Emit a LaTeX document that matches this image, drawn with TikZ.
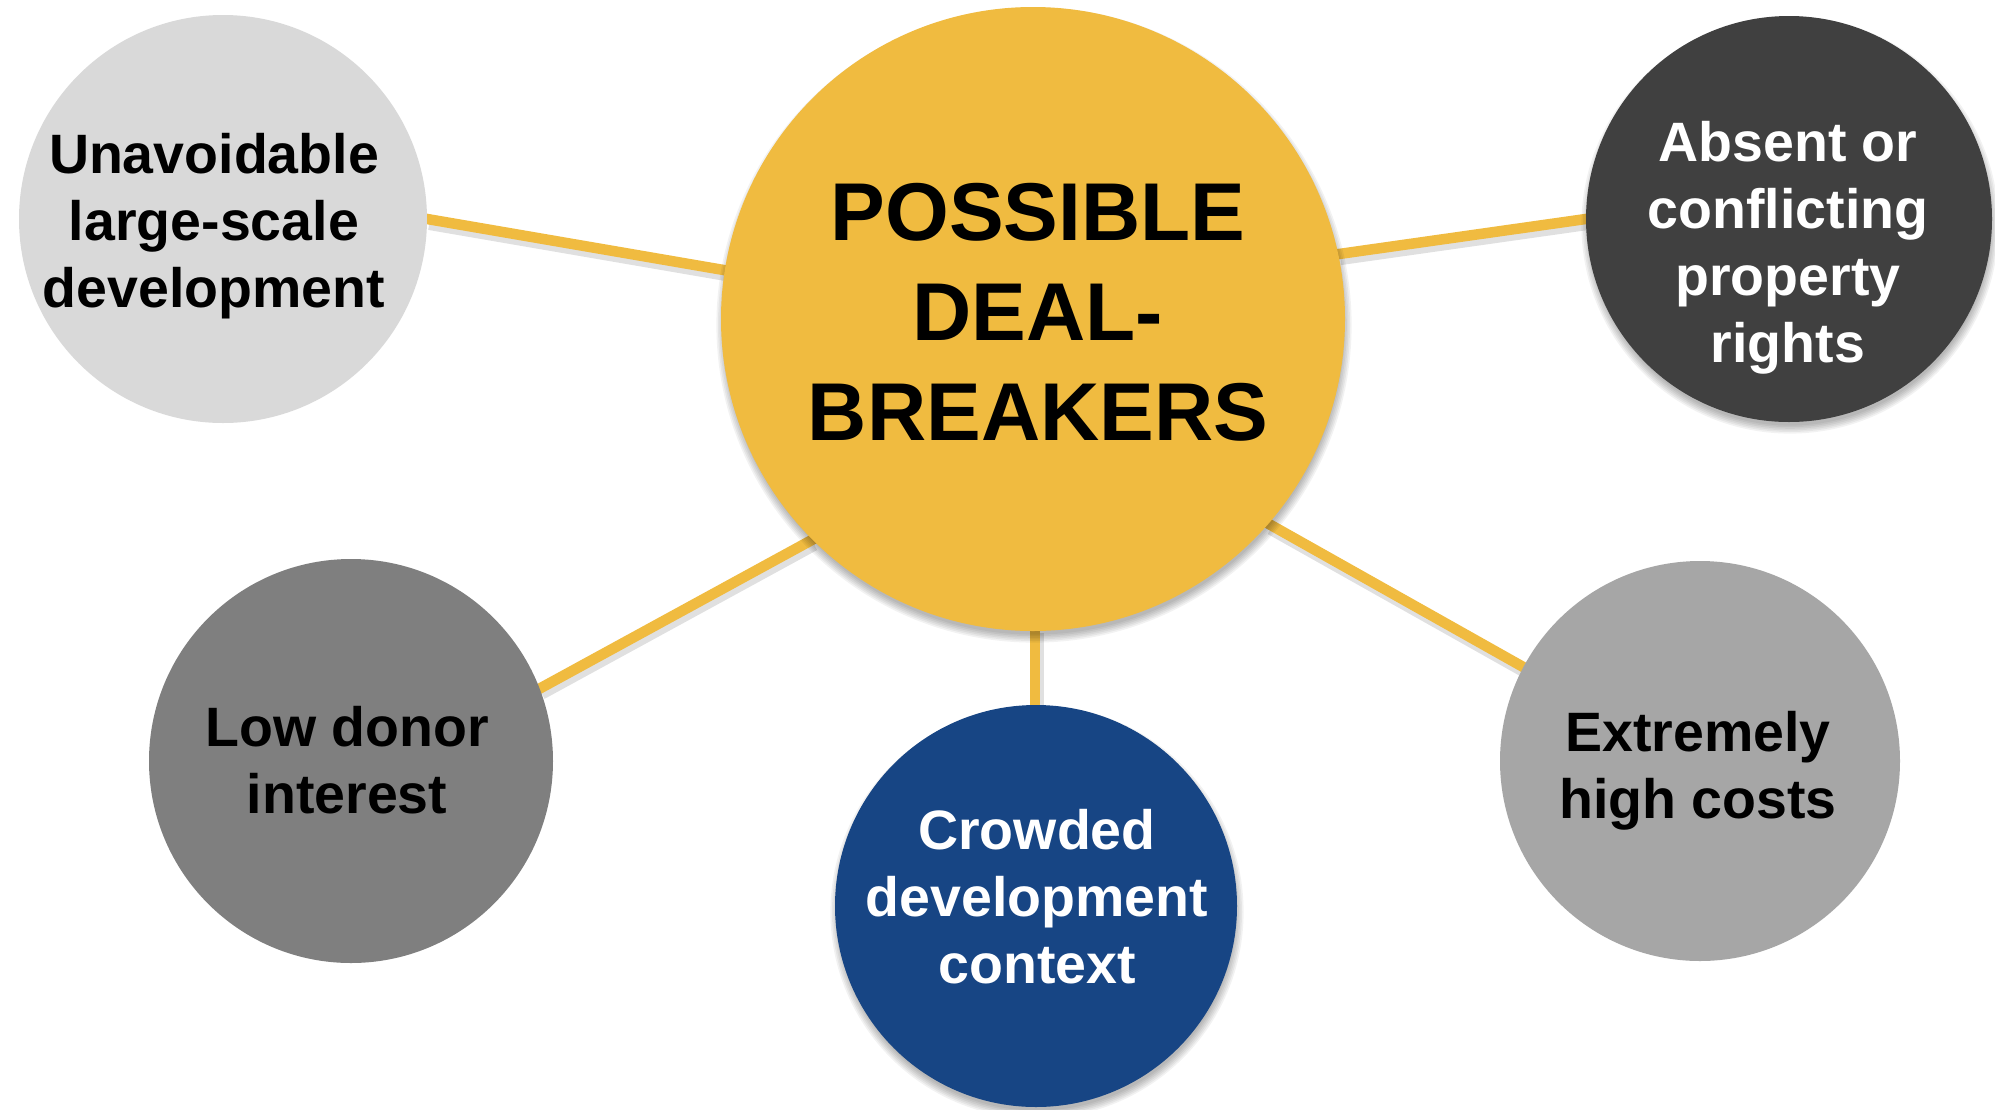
\documentclass[tikz,border=0pt]{standalone}
\usepackage{fontspec}
\setmainfont{Liberation Sans}
\usetikzlibrary{calc,backgrounds}
\pgfdeclarelayer{bottom}
\pgfsetlayers{bottom,background,main}
\definecolor{dbyellow}{HTML}{F0BB40}
\definecolor{dblight}{HTML}{D9D9D9}
\definecolor{dbdark}{HTML}{404040}
\definecolor{dbmid}{HTML}{7F7F7F}
\definecolor{dbblue}{HTML}{174584}
\definecolor{dbsilver}{HTML}{A6A6A6}
\newcommand\dbshadow[3]{%
  \foreach \k in {1,...,6}{%
    \fill[black, opacity=0.05] ($(#1)+(1,6)$) circle ({#2-4+\k*1.6});}}
\begin{document}
\begin{tikzpicture}[x=1pt,y=-1pt,
  bubble/.style={circle, inner sep=0pt, minimum size=#1},
  link/.style={draw=dbyellow, line width=10.5pt, shorten <=-4pt, shorten >=-4pt},
  linkshadow/.style={draw=black, opacity=0.12, line width=12pt},
  lbl/.style={font=\bfseries\fontsize{55.5}{67}\selectfont, align=center, inner sep=0pt},
  clbl/.style={font=\bfseries\fontsize{82}{100}\selectfont, align=center, inner sep=0pt}]
\useasboundingbox (0,0) rectangle (1995,1109);
\begin{pgfonlayer}{bottom}
\fill[white] (0,0) rectangle (1995,1109);
\end{pgfonlayer}

\node[bubble=624pt, fill=dbyellow] (c) at (1033,319) {};
\node[bubble=408pt, fill=dblight] (tl) at (223,219) {};
\node[bubble=406pt, fill=dbdark] (tr) at (1789,219) {};
\node[bubble=404pt, fill=dbmid] (bl) at (351,761) {};
\node[bubble=402pt, fill=dbblue] (bo) at (1036,906) {};
\node[bubble=400pt, fill=dbsilver] (br) at (1700,761) {};

\node[clbl] (ct) at (1038,312) {POSSIBLE\\DEAL-\\BREAKERS};
\node[lbl, text=black] (tlt) at (214,226) {Unavoidable\\large-scale\\development};
\node[lbl, text=white] (trt) at (1788,248) {Absent or\\conflicting\\property\\rights};
\node[lbl, text=black] (blt) at (347,760) {Low donor\\interest};
\node[lbl, text=white] (bot) at (1037,897) {Crowded\\development\\context};
\node[lbl, text=black] (brt) at (1698,771) {Extremely\\high costs};

\coordinate (cb) at (1035,630);
\coordinate (bt) at (1035,706);

\begin{pgfonlayer}{background}
  \draw[linkshadow] ($(tl.0)+(2,5)$) -- ($(c.171)+(2,5)$);
  \draw[linkshadow] ($(tr.180)+(2,5)$) -- ($(c.12)+(2,5)$);
  \draw[linkshadow] ($(bl.21)+(2,5)$) -- ($(c.225)+(2,5)$);
  \draw[linkshadow] ($(cb)+(3,3)$) -- ($(bt)+(3,3)$);
  \draw[linkshadow] ($(br.152)+(2,5)$) -- ($(c.-41)+(2,5)$);
  \draw[link] (tl.0) -- (c.171);
  \draw[link] (tr.180) -- (c.12);
  \draw[link] (bl.21) -- (c.225);
  \draw[link] (cb) -- (bt);
  \draw[link] (br.152) -- (c.-41);
  \dbshadow{c}{312pt}
  \dbshadow{tl}{204pt}
  \dbshadow{tr}{203pt}
  \dbshadow{bl}{202pt}
  \dbshadow{bo}{201pt}
  \dbshadow{br}{200pt}
\end{pgfonlayer}
\end{tikzpicture}
\end{document}
